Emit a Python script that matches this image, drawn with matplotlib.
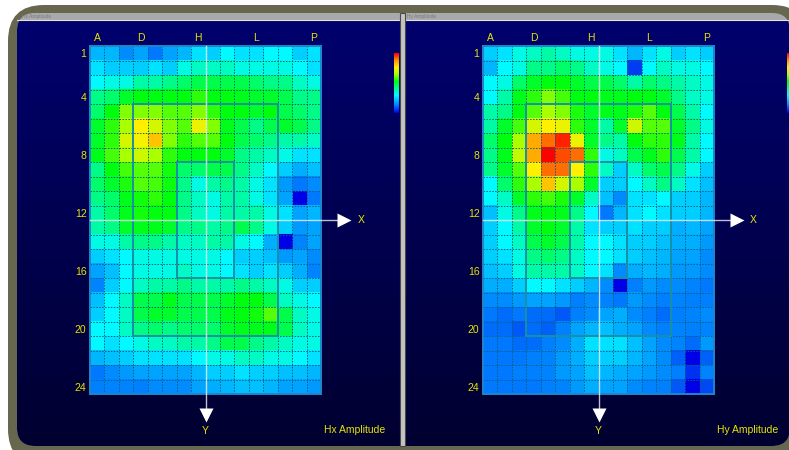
import numpy as np
import matplotlib.pyplot as plt
from matplotlib.colors import LinearSegmentedColormap
from matplotlib.patches import FancyBboxPatch, Rectangle

plt.rcParams['font.family'] = ['Liberation Sans', 'DejaVu Sans']

# grid layout: 16 columns (A..P) x 24 rows
columns = list("ABCDEFGHIJKLMNOP")
col_labels = ['A', 'D', 'H', 'L', 'P']
row_labels = [1, 4, 8, 12, 16, 20, 24]

# amplitude levels (1 = low/blue, 18 = high/red)
hx = np.array([
    [4.5, 4.5, 3.5, 4, 3, 4, 4.5, 5.5, 5, 6, 5.5, 5.5, 6, 6, 5, 5.5],
    [5.5, 5, 5, 5, 5.5, 5, 6.5, 7, 7, 7, 6.5, 6.5, 6.5, 6.5, 6, 5.5],
    [6, 6.5, 6.5, 7.5, 7.5, 8, 8.5, 9, 9, 9, 9, 8.5, 8, 8, 7, 6.5],
    [8, 8.5, 9.5, 10, 10, 10, 10, 10.5, 10, 10, 9.8, 9.5, 9.5, 9, 8, 8],
    [8.5, 10, 11.5, 11.5, 11.5, 11, 11, 11.5, 10.5, 10, 10, 9.5, 10, 9, 8.5, 8],
    [9.5, 10.5, 12, 14, 13, 11.5, 11, 13.5, 11.5, 9.8, 9, 8, 9, 9.5, 9, 8],
    [9.5, 10.5, 13, 13.8, 15, 11.5, 10.5, 11, 11, 10, 9, 8.5, 8, 7.5, 7.5, 7],
    [9.8, 10.8, 12, 12.8, 12, 10.5, 10, 10, 10, 9.5, 8, 7.5, 7, 6.5, 5.5, 5.5],
    [8, 10, 10.8, 11, 11, 10.2, 8.5, 8.5, 9, 9, 8, 7, 6, 5, 4.3, 4.7],
    [8.5, 9.5, 10.3, 11, 10.8, 10.1, 8, 6.5, 7.5, 8, 7.5, 6.5, 5.5, 3.8, 3, 3.5],
    [8, 8.5, 9.8, 10.2, 10.5, 10, 8, 7, 6.5, 7.5, 7.5, 6.5, 5.5, 4, 1, 3],
    [7.5, 8.5, 9.8, 10.2, 10, 10, 8, 7, 6.5, 7.5, 7.5, 7.5, 6.5, 5.5, 4, 4.5],
    [7.5, 8, 9.5, 9.8, 9.8, 9.5, 8, 8, 7.5, 8, 9, 8, 6.5, 5, 3.8, 4],
    [6.5, 6.5, 7.5, 8, 8, 7.5, 7, 7, 7.5, 7.5, 6.5, 6, 4.3, 1, 3.3, 4],
    [5, 5.5, 6, 6.5, 6.5, 6.5, 6.5, 6.5, 6.5, 6, 5, 5, 4.7, 3.8, 4, 3.5],
    [4, 4.7, 6, 6.5, 6.5, 6.5, 7, 6.5, 6.5, 6, 5.5, 5, 5.5, 5, 4.3, 3.3],
    [3.3, 5, 6, 7, 7.5, 7.5, 8, 7.5, 7.5, 7.5, 8, 7.5, 7, 6.5, 5, 5],
    [4.7, 6, 7, 9, 9, 9.8, 9, 9, 9, 9.5, 10, 10, 9, 7, 6.5, 6],
    [5, 6, 7, 9, 9.5, 9.5, 9, 9, 9, 9.8, 10, 10.2, 11, 9, 7, 6.5],
    [6, 6, 7, 8, 8.5, 8, 8.5, 8.5, 8.5, 9.5, 9.8, 9.8, 9.8, 9, 7, 6.5],
    [6, 5.5, 6, 6.5, 7, 7, 7.5, 7.5, 8, 9, 9, 8, 7.5, 7, 6.5, 6.5],
    [4.5, 4.7, 5, 5.5, 5.5, 5.5, 5.5, 6, 6.5, 6.5, 7, 7, 6.5, 6.5, 6, 5.5],
    [3, 3.5, 3.8, 4, 4, 4, 4, 4.5, 5, 5, 5.5, 5, 5, 4.7, 4.7, 4.5],
    [3.2, 3.3, 3.3, 3.2, 3.5, 3.5, 3.5, 4, 4.3, 4.5, 4.7, 4.7, 4.5, 4, 4, 3.8],
])

hy = np.array([
    [5, 5.5, 6.5, 7, 7.5, 7, 6.5, 6.5, 6.5, 5.5, 4.5, 5.5, 6.5, 5, 5.5, 5],
    [4.5, 6, 6.5, 8, 8, 8.5, 8, 7, 6.5, 6, 2, 6, 7, 6.5, 6.5, 6],
    [6, 6.5, 8.5, 9.5, 10, 10, 9.5, 9, 9, 8.5, 7.5, 8.5, 8, 7.5, 7, 6.5],
    [6, 7.5, 9.8, 10.5, 11.5, 10.8, 10, 10, 9.8, 9.8, 10, 10, 9.5, 8, 7, 6.5],
    [7.5, 8, 10, 11, 12, 11.5, 10.3, 9.5, 9.8, 9.8, 10.3, 11, 10, 9, 7.5, 6],
    [7.5, 9.5, 10.8, 13, 14, 13.5, 10.5, 9.5, 7.5, 9.5, 12.8, 11, 11, 9.5, 8, 6.5],
    [8.5, 10, 12, 15.5, 16.5, 17.5, 13.5, 9.5, 8, 7.5, 10, 10.5, 10.5, 9.8, 7.5, 6],
    [8, 9.8, 12.5, 15.5, 18, 17, 16.5, 10.5, 6.5, 7, 9, 9.8, 10.5, 9, 7.5, 6],
    [8, 9.5, 11, 14, 16.5, 16.5, 14, 10.5, 7, 5, 7, 8.5, 9, 8, 6.5, 5],
    [6, 8.5, 10.5, 12, 15, 13, 12, 9.5, 5, 5, 6, 7, 8, 7, 5.5, 4.7],
    [6, 7, 9.5, 10.5, 10.8, 10.3, 9.5, 7, 4.7, 3.5, 5.5, 5.5, 6, 5, 5, 4.5],
    [4.7, 6.5, 8, 9.8, 10, 9.8, 8, 6, 3, 4.5, 5.5, 6, 5.5, 5, 5, 4.5],
    [5, 6, 7.5, 9.5, 10, 9.5, 7.5, 5.5, 5, 5, 5.5, 5, 5, 4.3, 4.5, 4],
    [5, 6, 7, 9, 9.5, 9, 7.5, 6, 6, 5.5, 5, 5, 4.7, 4.3, 4.3, 3.8],
    [5, 5.5, 6.5, 8, 8.5, 8, 7, 6, 6, 5.5, 5, 4.7, 4.5, 4, 4, 3.5],
    [4.7, 5, 6.5, 7.5, 7.5, 7.5, 7, 6, 5.5, 3.5, 4.3, 4.5, 4.3, 3.8, 3.8, 3.5],
    [4.3, 4.3, 5, 6, 6, 5.5, 5, 4.5, 3.5, 1, 3.2, 3.8, 3.5, 3.5, 3.3, 3],
    [3.5, 3.5, 3.8, 4, 4, 3.8, 3.2, 3.5, 3.3, 3, 3.8, 3.5, 3.2, 3.3, 3.2, 3.2],
    [3, 2.8, 3, 2.8, 2.8, 2.5, 3.2, 3.5, 4, 4.3, 3.5, 3.2, 2.8, 3.2, 3.3, 3.5],
    [2.8, 2.8, 2.5, 2.8, 2.6, 3.2, 4, 4.5, 4.7, 4.3, 4, 3.5, 3.2, 3.3, 3.2, 3.3],
    [3, 3, 2.8, 2.8, 3.2, 3.5, 4.3, 5.5, 5.5, 5.5, 4.7, 4, 3.5, 3.3, 2.8, 3.8],
    [3, 3, 3, 3.2, 3.3, 3.8, 4.3, 5, 5, 5, 4.5, 4, 3.5, 2.6, 1, 2.6],
    [3, 3, 3.2, 3.2, 3.3, 3.8, 4, 4.7, 4.5, 4.3, 4, 3.8, 3.5, 3.2, 1.8, 3.3],
    [3, 3, 3, 3, 3.2, 3.3, 3.8, 4.3, 4, 4, 3.5, 3.3, 3.2, 2.5, 1, 2.2],
])

# probe loops drawn over the board (col, row, ncols, nrows)
outer_loop = (3, 4, 10, 16)
inner_loop = (6, 8, 4, 8)
# origin of X/Y axes (grid lines between H/I and rows 12/13)
axis_col = 8
axis_row = 12

lo, hi = 1, 18
nodes = [(1, '#0000e6'), (3, '#0078ff'), (6, '#00faff'), (10, '#00ff0f'),
         (12, '#aaff00'), (14, '#fff000'), (16, '#ff9600'), (18, '#ff0000')]
cmap = LinearSegmentedColormap.from_list(
    'amp', [((v - lo) / (hi - lo), c) for v, c in nodes])
navy = LinearSegmentedColormap.from_list('navy', ['#00006e', '#000030'])

yellow = '#e6e600'
W, H = 789, 450

fig = plt.figure(figsize=(W / 100, H / 100), dpi=100)
fig.patch.set_facecolor('white')

# window chrome
bg = fig.add_axes([0, 0, 1, 1])
bg.set_xlim(0, W)
bg.set_ylim(H, 0)
bg.axis('off')
bg.add_patch(FancyBboxPatch((8, 5), 800, 460, boxstyle="round,pad=0,rounding_size=36",
                            fc='#67674f', ec='none'))
inner = FancyBboxPatch((17, 13), 773, 433, boxstyle="round,pad=0,rounding_size=18",
                       fc='#a9a9a9', ec='none')
bg.add_patch(inner)
grad = bg.imshow(np.linspace(0, 1, 200).reshape(-1, 1), cmap=navy, aspect='auto',
                 extent=(17, 790, 446, 20), zorder=1)
grad.set_clip_path(inner)
bg.plot([17, 790], [20, 20], color='#e0e0e0', lw=0.8, zorder=2)
bg.add_patch(Rectangle((400, 13), 5, 433, fc='#c4c4c4', ec='#4a4a4a', lw=0.8, zorder=3))

# small colour scales
scale = np.linspace(hi, lo, 100).reshape(-1, 1)
for x0 in (394, 787):
    bg.imshow(scale, cmap=cmap, vmin=lo, vmax=hi, aspect='auto',
              extent=(x0, x0 + 5, 113, 53), zorder=2)

panels = [(hx, 90, 'Hx Amplitude', 22, 385), (hy, 483, 'Hy Amplitude', 407, 778)]
for data, gx, name, tx, lx in panels:
    bg.text(tx, 16.5, name, fontsize=3.5, color='#7a7a7a', va='center', zorder=4)
    bg.text(lx, 430, name, fontsize=7.5, color=yellow, ha='right', va='center', zorder=4)

    ax = fig.add_axes([gx / W, 1 - (46 + 348) / H, 231 / W, 348 / H])
    ax.imshow(data, cmap=cmap, vmin=lo, vmax=hi, extent=(0, 16, 24, 0),
              interpolation='nearest', aspect='auto')
    ax.set_xlim(0, 16)
    ax.set_ylim(24, 0)
    ax.set_xticks(np.arange(1, 16), minor=True)
    ax.set_yticks(np.arange(1, 24), minor=True)
    ax.grid(which='minor', color='#0d5f78', linestyle=(0, (1.5, 1.5)), linewidth=0.7)
    ax.set_xticks([columns.index(c) + 0.5 for c in col_labels], col_labels)
    ax.set_yticks([r - 0.5 for r in row_labels], [str(r) for r in row_labels])
    ax.xaxis.tick_top()
    ax.tick_params(which='both', length=0)
    ax.tick_params(which='major', colors=yellow, labelsize=7.5, pad=2.5)
    for s in ax.spines.values():
        s.set_color('#1f86c8')
        s.set_linewidth(1.4)
    ax.set_facecolor('none')

    for c0, r0, nc, nr in (outer_loop, inner_loop):
        ax.add_patch(Rectangle((c0, r0), nc, nr, fill=False, ec='#1a8fa6', lw=1.4, zorder=3))

    line_kw = dict(color='white', alpha=0.75, lw=1, clip_on=False, zorder=4)
    ax.plot([axis_col, axis_col], [0, 25.0], **line_kw)
    ax.plot([0, 17.15], [axis_row, axis_row], **line_kw)
    ax.plot([axis_col], [25.45], marker='v', ms=10, color='white', mec='none',
            clip_on=False, zorder=5)
    ax.plot([17.6], [axis_row], marker='>', ms=10, color='white', mec='none',
            clip_on=False, zorder=5)
    ax.text(axis_col, 26.55, 'Y', color=yellow, fontsize=7.5, ha='center', va='center')
    ax.text(18.75, axis_row, 'X', color=yellow, fontsize=7.5, ha='center', va='center')

fig.savefig('out.png', dpi=100, facecolor='white')
